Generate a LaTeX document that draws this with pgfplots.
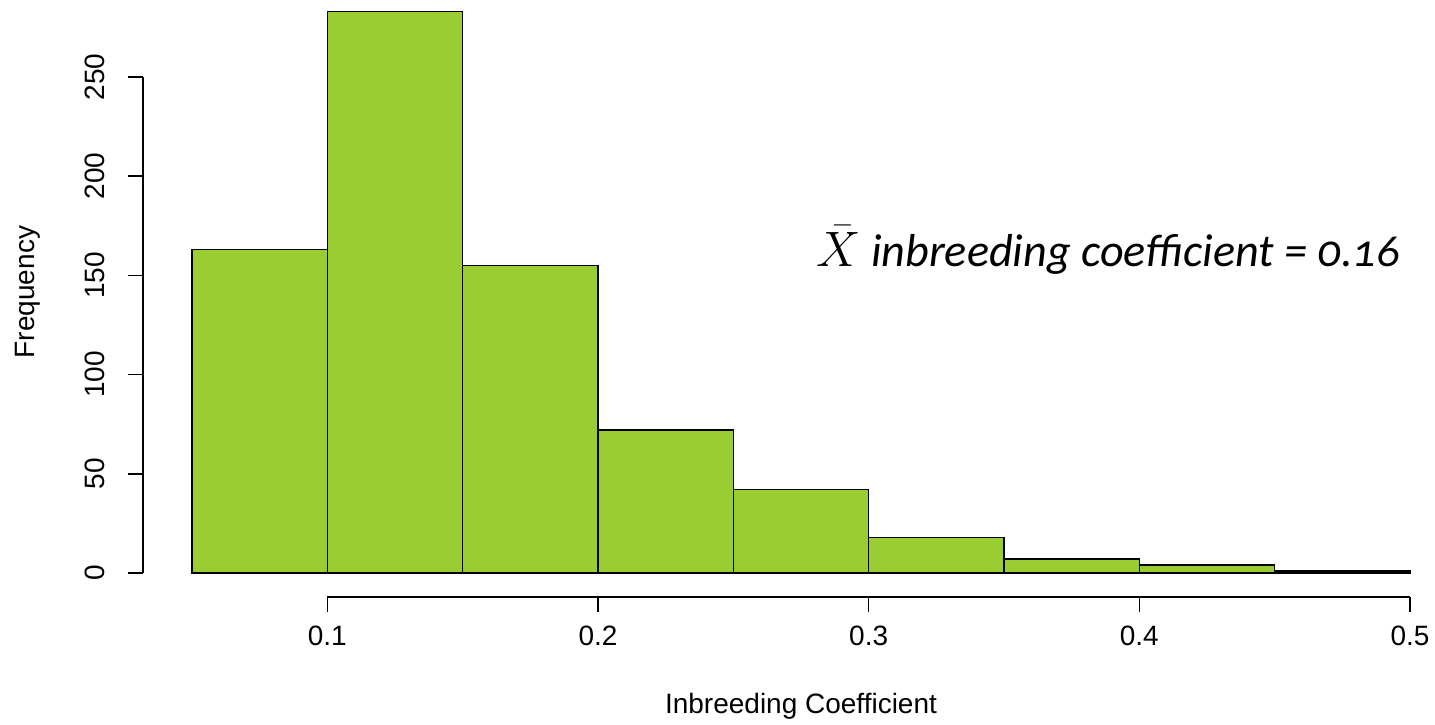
\documentclass[border=0pt]{standalone}
\usepackage{pgfplots}
\pgfplotsset{compat=1.18}
\usepackage{fontspec}
\setmainfont{Liberation Sans}
\newfontfamily\annfont[Numbers=OldStyle]{Carlito}
\definecolor{ygreen}{RGB}{154,205,50}
\begin{document}
\begin{tikzpicture}
\useasboundingbox (-96pt,-75.5pt) rectangle (621.5pt,286.5pt);
\begin{axis}[
  at={(0,0)}, anchor=south west,
  scale only axis,
  width=609pt, height=287.68pt,
  xmin=0.05, xmax=0.5, ymin=0, ymax=290,
  axis lines=none, clip=false,
]
\addplot[ybar interval, fill=ygreen, draw=black, line width=0.75pt] coordinates {
  (0.05,163) (0.10,283) (0.15,155) (0.20,72) (0.25,42)
  (0.30,18) (0.35,7) (0.40,4) (0.45,1) (0.50,1)
};
% x axis (R style)
\draw[line width=0.75pt] ([yshift=-12pt]axis cs:0.1,0) -- ([yshift=-12pt]axis cs:0.5,0);
\pgfplotsinvokeforeach{0.1,0.2,0.3,0.4,0.5}{
  \draw[line width=0.75pt] ([yshift=-12pt]axis cs:#1,0) -- ([yshift=-19.5pt]axis cs:#1,0);
  \node[font=\fontsize{14}{16}\selectfont, anchor=center, inner sep=0pt] at ([yshift=-31.5pt]axis cs:#1,0) {#1};
}
% y axis
\draw[line width=0.75pt] ([xshift=-24.5pt]axis cs:0.05,0) -- ([xshift=-24.5pt]axis cs:0.05,250);
\pgfplotsinvokeforeach{0,50,100,150,200,250}{
  \draw[line width=0.75pt] ([xshift=-24.5pt]axis cs:0.05,#1) -- ([xshift=-32pt]axis cs:0.05,#1);
  \node[font=\fontsize{14}{16}\selectfont, rotate=90, anchor=center, inner sep=0pt] at ([xshift=-48.5pt]axis cs:0.05,#1) {#1};
}
\end{axis}
\node[font=\fontsize{14}{16}\selectfont, rotate=90, inner sep=0pt] at (-82pt,140.5pt) {Frequency};
\node[font=\fontsize{14}{16}\selectfont, inner sep=0pt] at (304.5pt,-66.5pt) {Inbreeding Coefficient};
\node[font=\annfont\itshape\fontsize{23.1}{28}\selectfont, inner sep=0pt] at (458pt,161.5pt) {$\bar{X}$\ inbreeding coefficient = 0.16};
\end{tikzpicture}
\end{document}
